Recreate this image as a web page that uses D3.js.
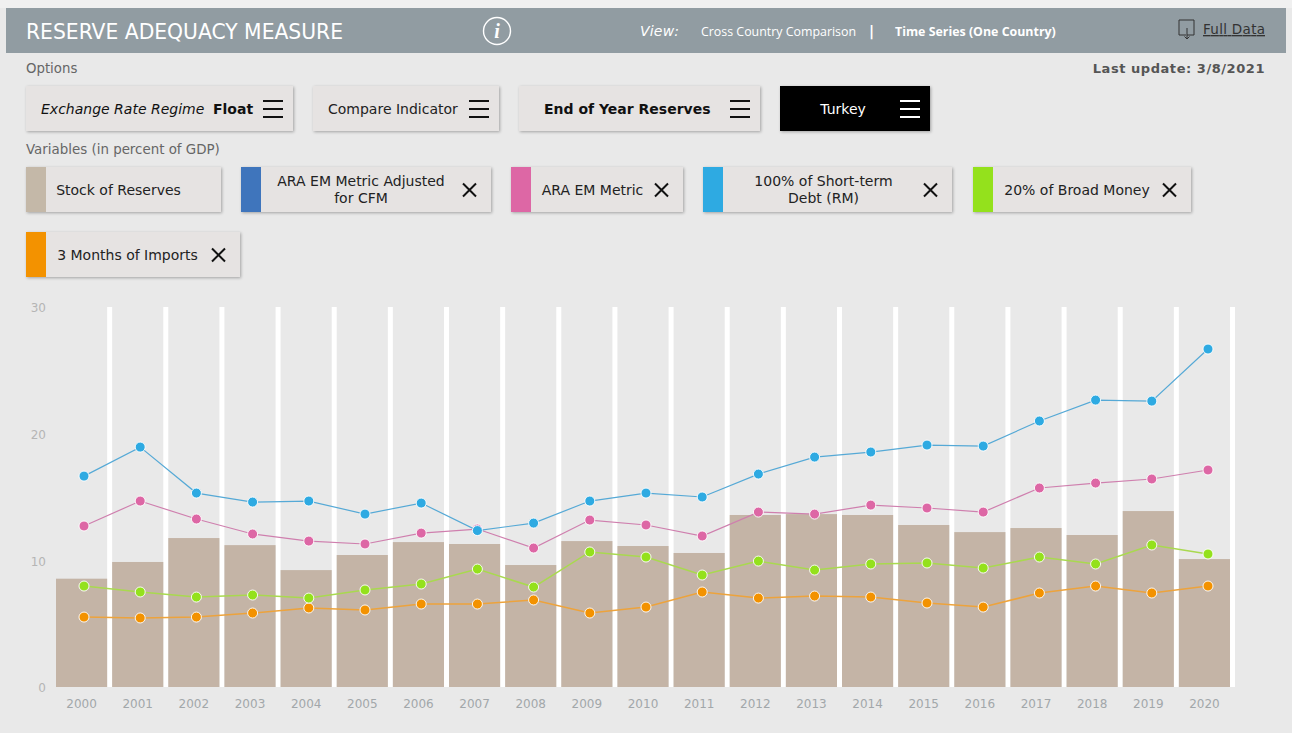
<!DOCTYPE html>
<html>
<head>
<meta charset="utf-8">
<script src="https://cdn.jsdelivr.net/npm/d3@7/dist/d3.min.js"></script>
<style>
  html, body { margin: 0; padding: 0; background: #e9e9e9; overflow: hidden; }
  svg { display: block; font-family: "DejaVu Sans", sans-serif; }
  .card { fill: #e6e3e2; filter: drop-shadow(1px 1px 1.5px rgba(0,0,0,0.3)); }
  .axis text { font-size: 12px; font-family: "DejaVu Sans", sans-serif; }
  .axis path, .axis line { display: none; }
</style>
</head>
<body>
<svg width="1292" height="733"></svg>
<script>
// Data (percent of GDP)
var years = ["2000","2001","2002","2003","2004","2005","2006","2007","2008","2009","2010",
  "2011","2012","2013","2014","2015","2016","2017","2018","2019","2020"];
var reserves = [8.55,9.87,11.76,11.2,9.23,10.42,11.44,11.29,9.63,11.52,11.13,10.58,13.58,13.65,13.58,12.79,12.23,12.55,12.0,13.89,10.1];
var shortTermDebt = [16.65,18.94,15.31,14.6,14.68,13.65,14.52,12.35,12.94,14.68,15.31,15.0,16.81,18.15,18.55,19.1,19.02,21.0,22.65,22.57,26.68];
var araMetric = [12.71,14.68,13.26,12.08,11.52,11.29,12.15,12.47,10.97,13.18,12.79,11.92,13.81,13.65,14.36,14.13,13.81,15.71,16.1,16.42,17.13];
var broadMoney = [7.97,7.5,7.1,7.26,7.02,7.66,8.13,9.31,7.89,10.66,10.26,8.84,9.94,9.23,9.71,9.79,9.39,10.26,9.71,11.21,10.5];
var imports = [5.52,5.45,5.52,5.84,6.24,6.08,6.55,6.55,6.87,5.84,6.31,7.5,7.02,7.18,7.1,6.63,6.31,7.42,7.97,7.42,7.97];
var yTicks = [0, 10, 20, 30];
var chipLabels = [
  ["Stock of Reserves"],
  ["ARA EM Metric Adjusted", "for CFM"],
  ["ARA EM Metric"],
  ["100% of Short-term", "Debt (RM)"],
  ["20% of Broad Money"],
  ["3 Months of Imports"]
];

// Styles and layout
var chipColors = ["#c4b8a8", "#3f75bc", "#dd67a5", "#2eaae2", "#94e11c", "#f39200"];
var chipBoxes = [
  {x: 26, y: 167, w: 195, textX: 118.5, close: false},
  {x: 241, y: 167, w: 250, textX: 361, close: true},
  {x: 511, y: 167, w: 172, textX: 592.5, close: true},
  {x: 703, y: 167, w: 249, textX: 823.5, close: true},
  {x: 973, y: 167, w: 218, textX: 1077, close: true},
  {x: 26, y: 232, w: 214, textX: 127.5, close: true}
];
var lineSeries = [
  {values: imports, line: "#eda33c", dot: "#f39200", width: 1.5},
  {values: broadMoney, line: "#a9d94f", dot: "#94e11c", width: 1.5},
  {values: araMetric, line: "#cf7fae", dot: "#dd67a5", width: 1.2},
  {values: shortTermDebt, line: "#55a9d6", dot: "#2eaae2", width: 1.2}
];

var svg = d3.select("svg");

// Page header
svg.append("rect").attr("width", 1292).attr("height", 8).attr("fill", "#f0f0f0");
svg.append("rect").attr("x", 6).attr("y", 8).attr("width", 1280).attr("height", 45).attr("fill", "#919ca2");

function label(txt, x, y, size, color, extra) {
  var t = svg.append("text").attr("x", x).attr("y", y).attr("font-size", size).attr("fill", color).text(txt);
  if (extra) extra(t);
  return t;
}
function bold(t) { t.attr("font-weight", "bold"); }
function italic(t) { t.attr("font-style", "italic"); }
function burger(x, y, color) {
  [0, 8, 16].forEach(function (dy) {
    svg.append("rect").attr("x", x).attr("y", y + dy).attr("width", 20).attr("height", 2).attr("fill", color);
  });
}
function cross(cx, cy) {
  svg.append("path")
    .attr("d", "M" + (cx - 6.5) + "," + (cy - 6.5) + "L" + (cx + 6.5) + "," + (cy + 6.5) + "M" + (cx + 6.5) + "," + (cy - 6.5) + "L" + (cx - 6.5) + "," + (cy + 6.5))
    .attr("stroke", "#111").attr("stroke-width", 2).attr("fill", "none");
}

label("RESERVE ADEQUACY MEASURE", 26, 38.5, 20.5, "#fff", function (t) { t.attr("textLength", 317).attr("lengthAdjust", "spacingAndGlyphs"); });

// info icon
svg.append("circle").attr("cx", 497).attr("cy", 31).attr("r", 13.5).attr("fill", "none").attr("stroke", "#fff").attr("stroke-width", 1.4);
svg.append("text").attr("x", 497).attr("y", 38).attr("text-anchor", "middle").attr("font-family", "Liberation Serif")
  .attr("font-size", 20).attr("font-weight", "bold").attr("font-style", "italic").attr("fill", "#fff").text("i");

label("View:", 640, 36, 14, "#fff", function (t) { italic(t); t.attr("textLength", 39); });
label("Cross Country Comparison", 701, 36, 12.4, "#fff", function (t) { t.attr("font-family", "Open Sans"); });
label("|", 869, 36, 14, "#fff", bold);
label("Time Series (One Country)", 895, 36, 12.4, "#fff", function (t) { bold(t); t.attr("font-family", "Open Sans"); });

// download icon
svg.append("path").attr("d", "M1186,35H1179V20H1194V35H1187M1187,28V39M1184.5,36.5L1187,39L1189.5,36.5")
  .attr("fill", "none").attr("stroke", "#333").attr("stroke-width", 1);
label("Full Data", 1203, 34, 13.5, "#333", function (t) { t.attr("text-decoration", "underline").attr("textLength", 62); });

label("Options", 26, 73, 13.3, "#666");
label("Last update: 3/8/2021", 1265, 73, 13, "#555", function (t) { bold(t); t.attr("text-anchor", "end").attr("letter-spacing", 0.55); });
label("Variables (in percent of GDP)", 26, 154, 13.4, "#666");

// Option buttons
[[26, 267], [313, 186], [519, 241]].forEach(function (b) {
  svg.append("rect").attr("class", "card").attr("x", b[0]).attr("y", 86).attr("width", b[1]).attr("height", 45);
});
svg.append("rect").attr("x", 780).attr("y", 86).attr("width", 150).attr("height", 45).attr("fill", "#000")
  .style("filter", "drop-shadow(1px 1px 1.5px rgba(0,0,0,0.3))");

label("Exchange Rate Regime", 41, 114, 14, "#111", italic);
label("Float", 213, 114, 14, "#111", bold);
burger(263, 100, "#111");
label("Compare Indicator", 328, 114, 14, "#222");
burger(469, 100, "#111");
label("End of Year Reserves", 544, 114, 14, "#111", bold);
burger(730, 100, "#111");
label("Turkey", 843, 114, 14, "#fff", function (t) { t.attr("text-anchor", "middle"); });
burger(900, 100, "#fff");

// Variable chips
chipBoxes.forEach(function (b, i) {
  svg.append("rect").attr("class", "card").attr("x", b.x).attr("y", b.y).attr("width", b.w).attr("height", 45);
  svg.append("rect").attr("x", b.x).attr("y", b.y).attr("width", 20).attr("height", 45).attr("fill", chipColors[i]);
  var lines = chipLabels[i];
  var base = lines.length > 1 ? 27 : 28;
  lines.forEach(function (l, j) {
    svg.append("text").attr("x", b.textX).attr("y", b.y + base + (j - (lines.length - 1) / 2) * 17)
      .attr("text-anchor", "middle").attr("font-size", 14).attr("fill", "#222").text(l);
  });
  if (b.close) cross(b.x + b.w - 21.5, b.y + 23);
});

// Scales: bars sit left in each band, the points run on their own slightly wider scale
var x = d3.scaleBand().domain(years).range([56, 1230]).paddingInner(5 / 56.15);
var xPoint = d3.scalePoint().domain(years).range([84, 1208]);
var y = d3.scaleLinear().domain([0, 30]).range([687, 307]);

// White gaps between the years
svg.append("g").selectAll("rect").data(years).enter().append("rect")
  .attr("x", function (d) { return x(d) + x.bandwidth(); })
  .attr("y", y(30))
  .attr("width", x.step() - x.bandwidth())
  .attr("height", y(0) - y(30))
  .attr("fill", "#fff");

// Stock of reserves
svg.append("g").selectAll("rect").data(reserves).enter().append("rect")
  .attr("x", function (d, i) { return x(years[i]); })
  .attr("y", function (d) { return y(d); })
  .attr("width", x.bandwidth())
  .attr("height", function (d) { return y(0) - y(d); })
  .attr("fill", "#c4b4a6");

// Axes
var gx = svg.append("g").attr("class", "axis").attr("transform", "translate(0,696)")
  .call(d3.axisBottom(x).tickSize(0).tickPadding(3));
gx.selectAll("text").attr("fill", "#a2a7aa");
var gy = svg.append("g").attr("class", "axis").attr("transform", "translate(46,1)")
  .call(d3.axisLeft(y).tickValues(yTicks).tickSize(0).tickPadding(0));
gy.selectAll("text").attr("fill", "#b5b5b5");

// Lines and points
var lineGen = d3.line().x(function (d, i) { return xPoint(years[i]); }).y(function (d) { return y(d); });
lineSeries.forEach(function (s) {
  svg.append("path").attr("d", lineGen(s.values)).attr("fill", "none")
    .attr("stroke", s.line).attr("stroke-width", s.width);
  svg.append("g").selectAll("circle").data(s.values).enter().append("circle")
    .attr("cx", function (d, i) { return xPoint(years[i]); })
    .attr("cy", function (d) { return y(d); })
    .attr("r", 5)
    .attr("fill", s.dot)
    .attr("stroke", "#fff").attr("stroke-width", 0.9);
});
</script>
</body>
</html>
